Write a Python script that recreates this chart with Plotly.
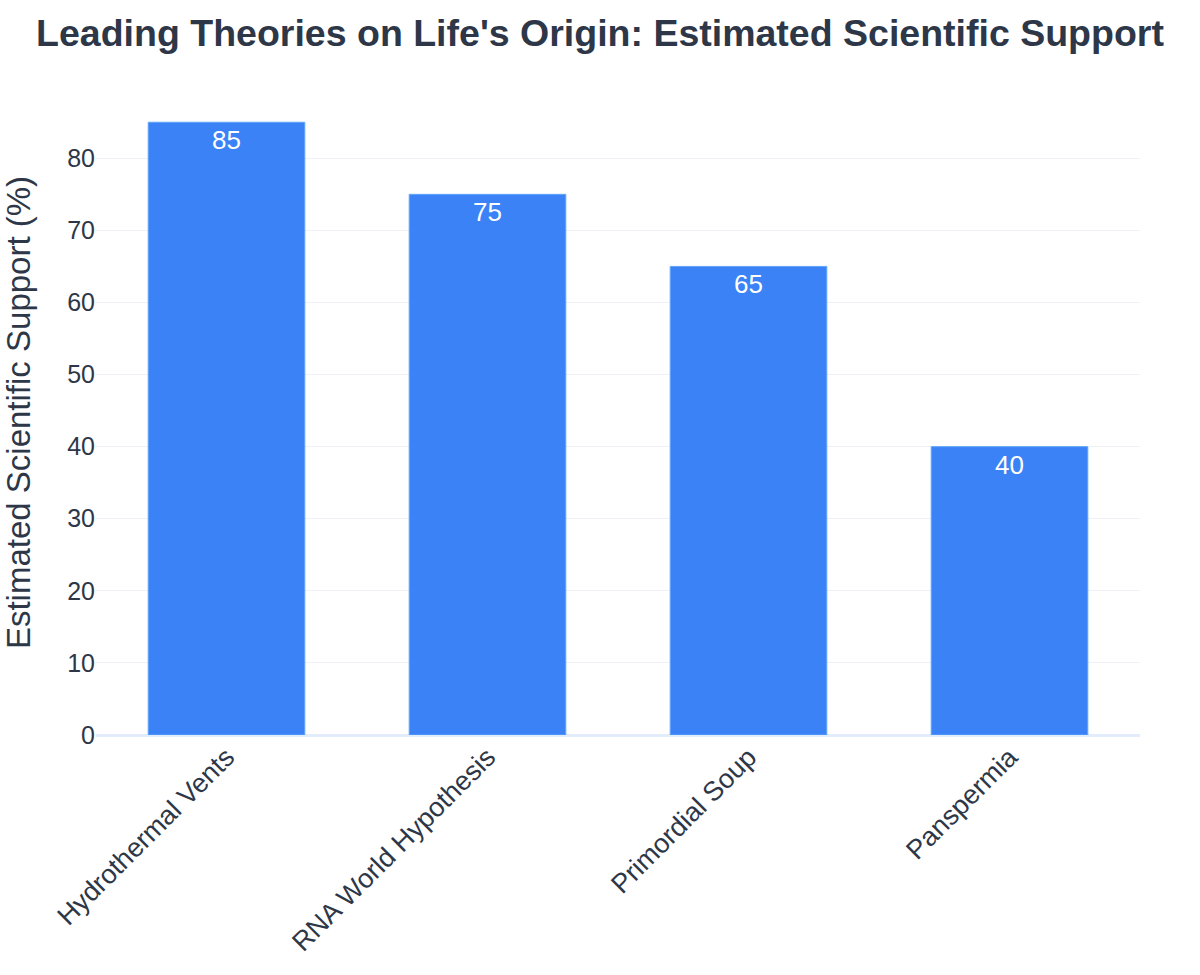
import plotly.graph_objects as go

theories = ["Hydrothermal Vents", "RNA World Hypothesis", "Primordial Soup", "Panspermia"]
support = [85, 75, 65, 40]

fig = go.Figure(go.Bar(
    x=theories, y=support,
    marker=dict(color="#3b82f6", line=dict(color="#60a5fa", width=1)),
    text=support, textposition="inside", insidetextanchor="end",
    textfont=dict(color="white", size=26, family="Arial"),
))

fig.update_layout(
    width=1200, height=975,
    title=dict(text="<b>Leading Theories on Life's Origin: Estimated Scientific Support</b>",
               x=0.5, xanchor="center", y=0.966, yanchor="middle",
               font=dict(size=37.5, color="#2d3748", family="Arial")),
    plot_bgcolor="white", paper_bgcolor="white",
    margin=dict(l=96, r=60, t=90, b=240),
    bargap=0.4,
    font=dict(family="Arial", color="#2d3748"),
    showlegend=False,
)
fig.update_xaxes(tickangle=-45, tickfont=dict(size=27, color="#2d3748"), showgrid=False, automargin=False)
fig.update_yaxes(title=dict(text="Estimated Scientific Support (%)", standoff=30,
                            font=dict(size=33, color="#2d3748")),
                 tickfont=dict(size=25, color="#2d3748"), gridcolor="#eef1f6", automargin=False,
                 zeroline=True, zerolinecolor="#e3ecfa", zerolinewidth=3, dtick=10)

fig.write_html("out.html")
